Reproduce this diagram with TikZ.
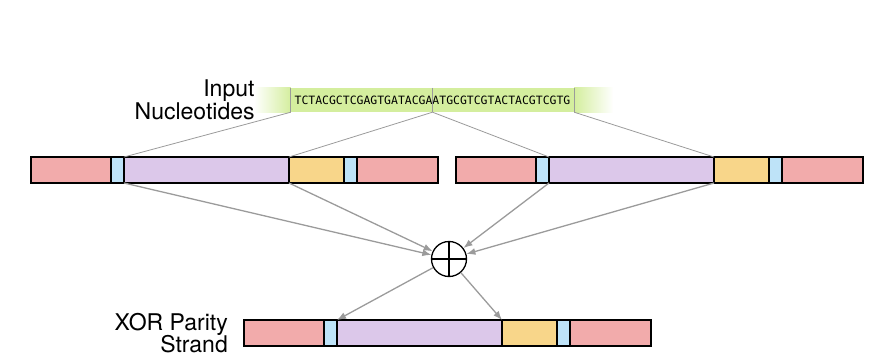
\documentclass[tikz,border=0pt]{standalone}
\usepackage{fontspec}
\setmainfont{TeX Gyre Heros}
\newfontfamily\seqfont{DejaVu Sans Mono}
\usepackage{xcolor}
\usetikzlibrary{arrows.meta,positioning}
\definecolor{primerred}{RGB}{242,171,171}
\definecolor{addrblue}{RGB}{190,227,248}
\definecolor{datapurple}{RGB}{220,200,234}
\definecolor{checkyellow}{RGB}{248,214,138}
\definecolor{seqgreen}{RGB}{212,238,158}
\definecolor{linkgray}{RGB}{155,155,155}

\begin{document}
\begin{tikzpicture}[x=1pt,y=-1pt,
    seg/.style={draw=black,line width=1.4pt,minimum height=26pt,inner sep=0pt,outer sep=0pt},
    primerseg/.style={seg,fill=primerred,minimum width=80pt},
    addrseg/.style={seg,fill=addrblue,minimum width=13pt},
    dataseg/.style={seg,fill=datapurple,minimum width=165pt},
    checkseg/.style={seg,fill=checkyellow,minimum width=55pt},
    label/.style={align=right,inner sep=0pt,font=\fontsize{23}{22.5}\selectfont},
    link/.style={draw=linkgray,line width=0.8pt},
    arrow/.style={-{Latex[length=9pt,width=7pt]},draw=linkgray,line width=1.3pt}]
  \useasboundingbox (0,0) rectangle (890,358);
  % input sequence band, faded at both ends
  \node[fill=seqgreen,minimum width=283pt,minimum height=24pt,inner sep=0pt,
        font=\seqfont\fontsize{11.45}{12}\selectfont] (seq) at (432.5,100)
       {TCTACGCTCGAGTGATACGAATGCGTCGTACTACGTCGTG};
  \shade[left color=white,right color=seqgreen] (seq.north west) ++(-37,0) rectangle (seq.south west);
  \shade[left color=seqgreen,right color=white] (seq.north east) rectangle ([xshift=39pt]seq.south east);
  \draw[link] (seq.north west) -- (seq.south west);
  \draw[link] (seq.north) -- (seq.south);
  \draw[link] (seq.north east) -- (seq.south east);
  \node[label,anchor=east,left=36pt of seq] (inlabel) {Input\\Nucleotides};
  % left strand
  \node[primerseg,anchor=west] (la) at (31,170) {};
  \node[addrseg,right=0pt of la] (lb) {};
  \node[dataseg,right=0pt of lb] (lc) {};
  \node[checkseg,right=0pt of lc] (ld) {};
  \node[addrseg,right=0pt of ld] (le) {};
  \node[primerseg,minimum width=81pt,right=0pt of le] (lf) {};
  % right strand
  \node[primerseg,anchor=west] (ra) at (456,170) {};
  \node[addrseg,right=0pt of ra] (rb) {};
  \node[dataseg,right=0pt of rb] (rc) {};
  \node[checkseg,right=0pt of rc] (rd) {};
  \node[addrseg,right=0pt of rd] (re) {};
  \node[primerseg,minimum width=81pt,right=0pt of re] (rf) {};
  % parity strand
  \node[primerseg,anchor=west] (pa) at (244,333) {};
  \node[addrseg,right=0pt of pa] (pb) {};
  \node[dataseg,right=0pt of pb] (pc) {};
  \node[checkseg,right=0pt of pc] (pd) {};
  \node[addrseg,right=0pt of pd] (pe) {};
  \node[primerseg,minimum width=81pt,right=0pt of pe] (pf) {};
  \node[label,left=16pt of pa] (parlabel) {XOR Parity\\Strand};
  % xor gate
  \node[circle,draw,line width=1.3pt,minimum size=35pt,inner sep=0pt,fill=white] (xor) at (449,259) {};
  \draw[line width=1.3pt] (xor.north) -- (xor.south) (xor.west) -- (xor.east);
  \draw[link] (seq.south west) -- (lc.north west);
  \draw[link] (seq.south) -- (lc.north east);
  \draw[link] (seq.south) -- (rc.north west);
  \draw[link] (seq.south east) -- (rc.north east);
  \draw[arrow] (lc.south west) -- (xor);
  \draw[arrow] (lc.south east) -- (xor);
  \draw[arrow] (rc.south west) -- (xor);
  \draw[arrow] (rc.south east) -- (xor);
  \draw[arrow] (xor) -- (pc.north west);
  \draw[arrow] (xor) -- (pc.north east);
\end{tikzpicture}
\end{document}
